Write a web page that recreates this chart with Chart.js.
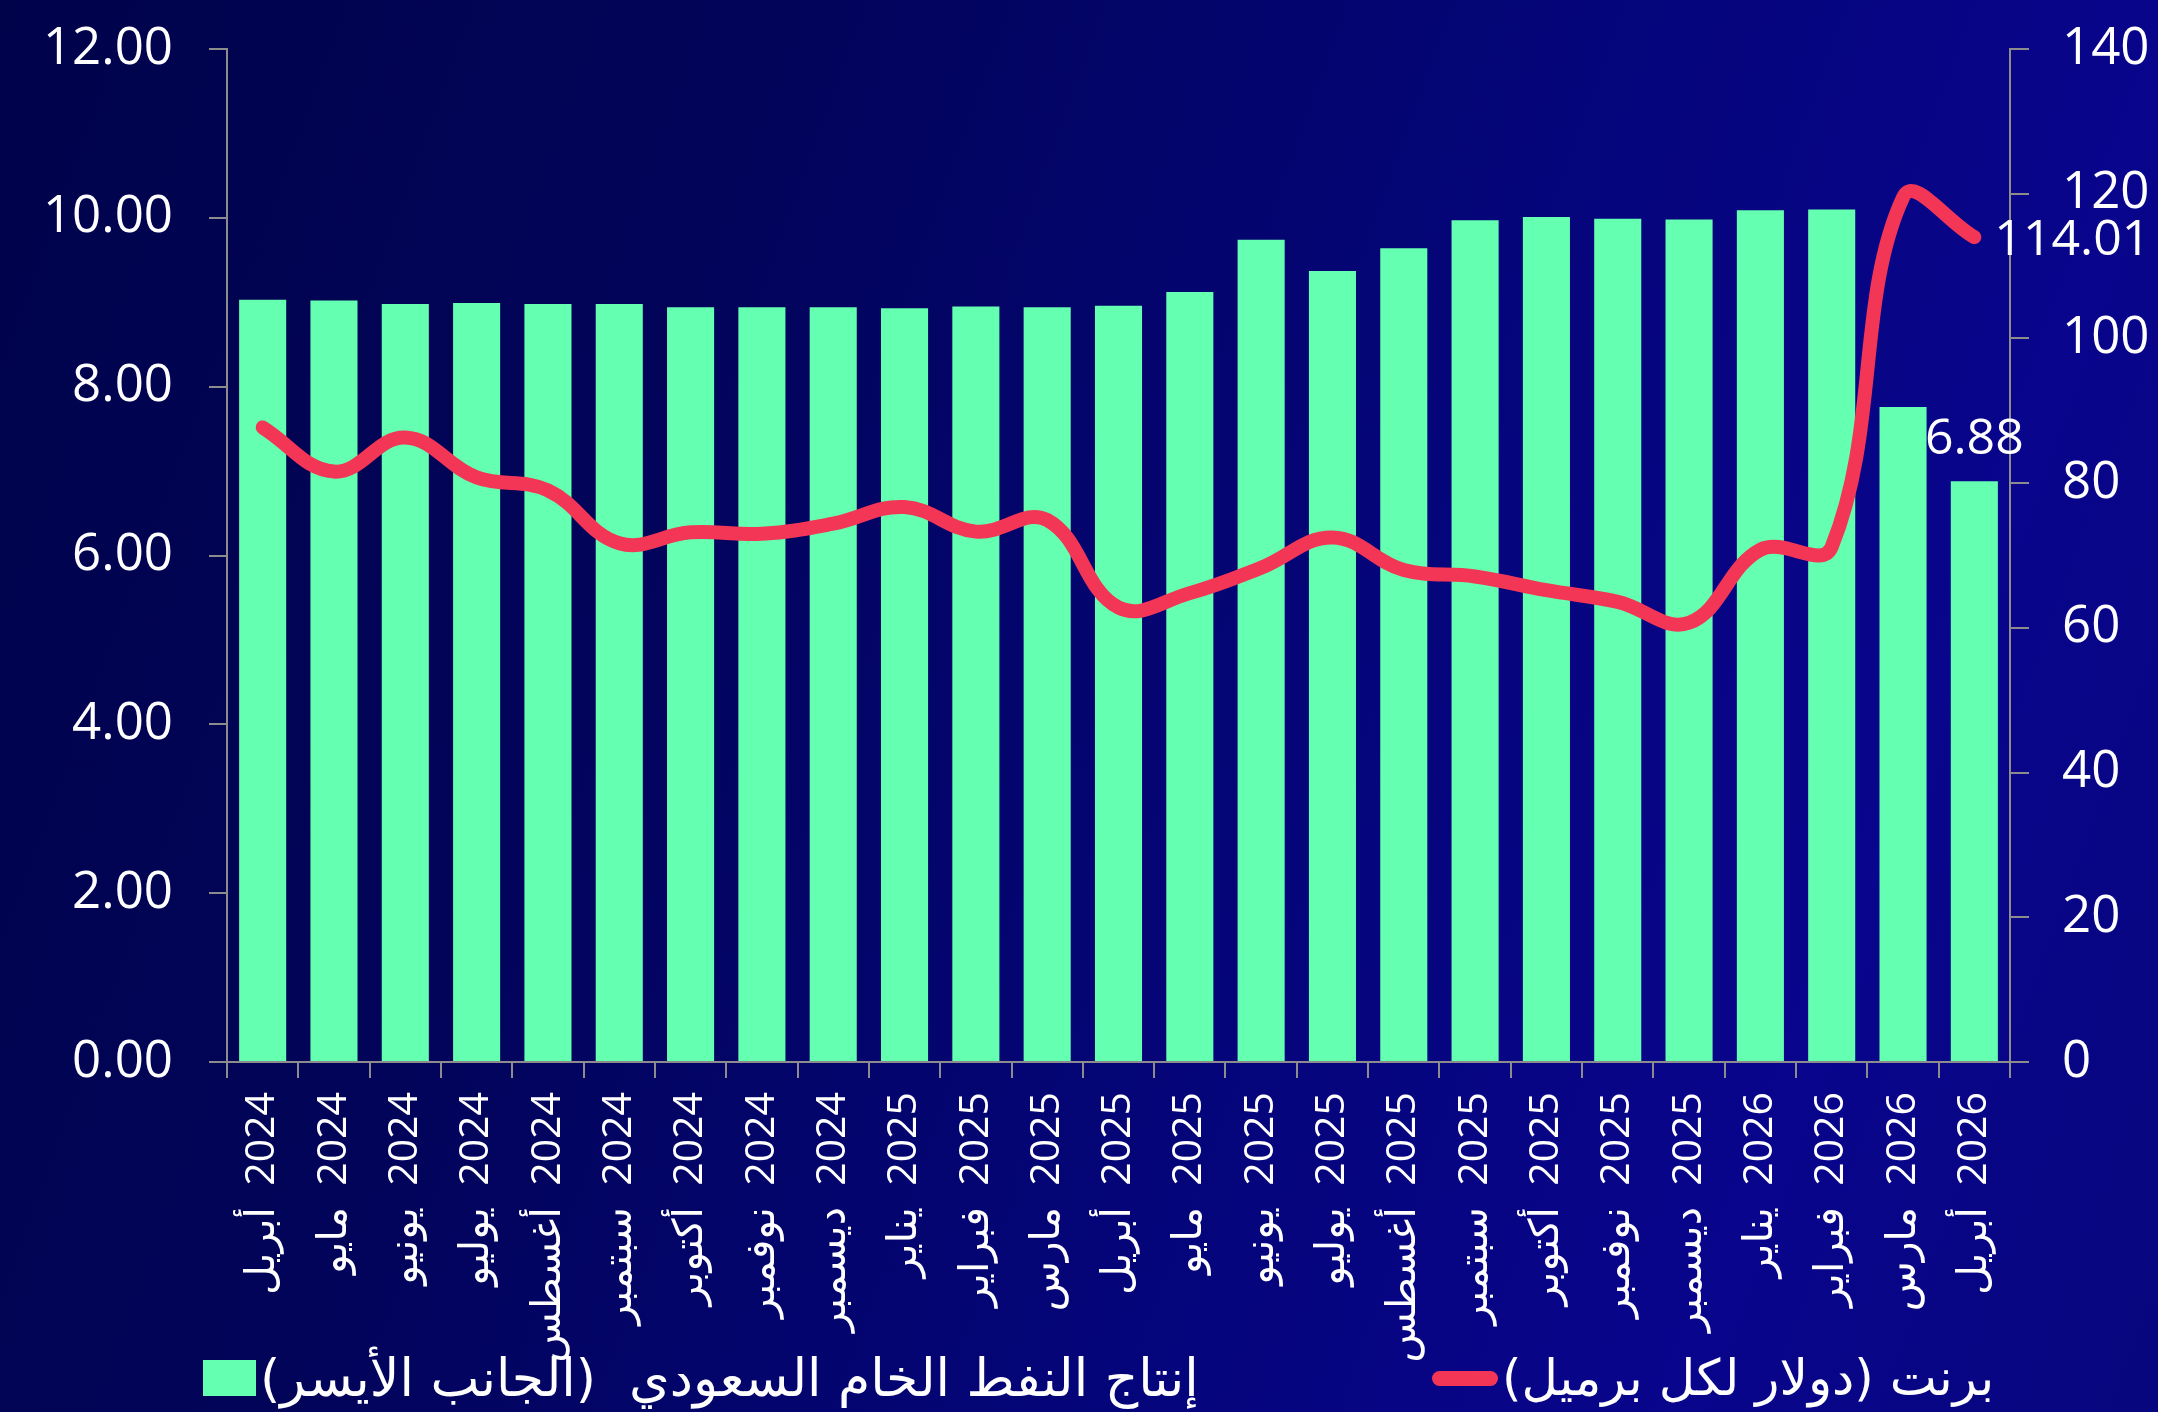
<!DOCTYPE html>
<html lang="ar">
<head>
<meta charset="utf-8">
<script src="https://cdn.jsdelivr.net/npm/chart.js@4.4.1/dist/chart.umd.min.js"></script>
<style>
  html, body { margin: 0; padding: 0; }
  body {
    width: 2158px; height: 1412px; overflow: hidden; position: relative;
    background: linear-gradient(110deg, #00034a 0%, #02045a 30%, #05057a 60%, #09058c 82%, #08067e 100%);
    font-family: 'Open Sans', 'DejaVu Sans', sans-serif;
  }
  #wrap { position: absolute; left: 0; top: 0; width: 2158px; height: 1412px; }
  .leg { position: absolute; display: flex; align-items: center; color: #fff; white-space: pre; }
  .leg .txt { direction: rtl; unicode-bidi: isolate; font-family: 'DejaVu Sans', sans-serif; line-height: 1; }
  .box { width: 53px; height: 36px; background: #64FFB1; margin-right: 4px; }
  .ln { width: 66px; height: 15px; border-radius: 8px; background: #F43656; margin-right: 4px; }
</style>
</head>
<body>
<div id="wrap"><canvas id="c" width="2158" height="1412"></canvas></div>
<div class="leg" id="leg1" style="left:203px; top:1350px; height:56px; font-size:52px;">
  <div class="box"></div><span class="txt" id="legText1"></span>
</div>
<div class="leg" id="leg2" style="left:1432px; top:1350px; height:56px; font-size:50px;">
  <div class="ln"></div><span class="txt" id="legText2"></span>
</div>
<script>
// ---- Data ----
const months = ['أبريل','مايو','يونيو','يوليو','أغسطس','سبتمبر','أكتوبر','نوفمبر','ديسمبر',
                'يناير','فبراير','مارس','أبريل','مايو','يونيو','يوليو','أغسطس','سبتمبر','أكتوبر','نوفمبر','ديسمبر',
                'يناير','فبراير','مارس','أبريل'];
const years = ['2024','2024','2024','2024','2024','2024','2024','2024','2024',
               '2025','2025','2025','2025','2025','2025','2025','2025','2025','2025','2025','2025',
               '2026','2026','2026','2026'];
// Saudi crude production (million b/d) - left axis
const production = [9.03, 9.02, 8.98, 8.99, 8.98, 8.98, 8.94, 8.94, 8.94,
                    8.93, 8.95, 8.94, 8.96, 9.12, 9.74, 9.37, 9.64, 9.97, 10.01, 9.99, 9.98,
                    10.09, 10.10, 7.76, 6.88];
// Brent (USD per barrel) - right axis
const brent = [87.7, 81.6, 86.3, 80.8, 79.0, 71.7, 73.2, 73.0, 74.4,
               76.7, 73.3, 74.9, 62.8, 64.8, 68.3, 72.5, 68.0, 67.1, 65.2, 63.6, 60.7,
               70.8, 71.2, 119.5, 114.01];
const leftTicks = [0, 2, 4, 6, 8, 10, 12];
const rightTicks = [0, 20, 40, 60, 80, 100, 120, 140];
const seriesNames = ['إنتاج النفط الخام السعودي  (الجانب الأيسر)', 'برنت (دولار لكل برميل)'];

// month on the left, year on the right (before rotation) -> year nearest the axis
const labels = months.map((m, i) => m + '\u200E  ' + years[i]);

document.getElementById('legText1').textContent = seriesNames[0];
document.getElementById('legText2').textContent = seriesNames[1];

const FONT = "'Open Sans', 'DejaVu Sans', sans-serif";
const AXIS = '#8c8c8c';

const valueLabels = {
  id: 'valueLabels',
  afterDatasetsDraw(chart) {
    const ctx = chart.ctx;
    const lineMeta = chart.getDatasetMeta(0);
    const barMeta = chart.getDatasetMeta(1);
    const lb = production.length - 1;
    const ll = brent.length - 1;
    ctx.save();
    ctx.fillStyle = '#ffffff';
    ctx.font = '50px ' + FONT;
    const bar = barMeta.data[lb];
    ctx.textAlign = 'center';
    ctx.textBaseline = 'alphabetic';
    ctx.fillText(production[lb].toFixed(2), bar.x, bar.y - 27);
    const pt = lineMeta.data[ll];
    ctx.textAlign = 'left';
    ctx.fillText(brent[ll].toFixed(2), pt.x + 20, pt.y + 18);
    ctx.restore();
  }
};

function fixVertical(width) {
  return function (scale) {
    scale.width = width;
    scale.paddingTop = 0;
    scale.paddingBottom = 0;
  };
}

new Chart(document.getElementById('c'), {
  type: 'bar',
  data: {
    labels: labels,
    datasets: [
      {
        type: 'line',
        label: seriesNames[1],
        data: brent,
        yAxisID: 'y1',
        borderColor: '#F43656',
        backgroundColor: '#F43656',
        borderWidth: 14,
        tension: 0.4,
        pointRadius: 0,
        borderCapStyle: 'round',
        borderJoinStyle: 'round',
        fill: false,
        order: 0
      },
      {
        type: 'bar',
        label: seriesNames[0],
        data: production,
        yAxisID: 'y',
        backgroundColor: '#64FFB1',
        borderWidth: 0,
        barPercentage: 0.66,
        categoryPercentage: 1.0,
        order: 1
      }
    ]
  },
  options: {
    responsive: false,
    animation: false,
    events: [],
    layout: { padding: { top: 49, left: 0, right: 0, bottom: 0 } },
    plugins: {
      legend: { display: false },
      tooltip: { enabled: false }
    },
    scales: {
      x: {
        grid: { display: true, drawOnChartArea: false, drawTicks: true, tickLength: 16, color: AXIS, lineWidth: 2 },
        border: { display: true, color: AXIS, width: 2 },
        ticks: {
          color: '#ffffff', autoSkip: false, maxRotation: 90, minRotation: 90, padding: 14,
          font: { family: FONT, size: 41 }
        },
        afterFit(scale) { scale.height = 350; }
      },
      y: {
        position: 'left',
        min: 0, max: 12,
        afterBuildTicks(scale) { scale.ticks = leftTicks.map(v => ({ value: v })); },
        grid: { display: true, drawOnChartArea: false, drawTicks: true, tickLength: 18, color: AXIS, lineWidth: 2 },
        border: { display: true, color: AXIS, width: 2 },
        ticks: {
          color: '#ffffff', padding: 36,
          font: { family: FONT, size: 51 },
          callback: v => Number(v).toFixed(2)
        },
        afterFit: fixVertical(227)
      },
      y1: {
        position: 'right',
        min: 0, max: 140,
        afterBuildTicks(scale) { scale.ticks = rightTicks.map(v => ({ value: v })); },
        grid: { display: true, drawOnChartArea: false, drawTicks: true, tickLength: 19, color: AXIS, lineWidth: 2 },
        border: { display: true, color: AXIS, width: 2 },
        ticks: {
          color: '#ffffff', padding: 33,
          font: { family: FONT, size: 51 },
          callback: v => String(v)
        },
        afterFit: fixVertical(148)
      }
    }
  },
  plugins: [valueLabels]
});
</script>
</body>
</html>
